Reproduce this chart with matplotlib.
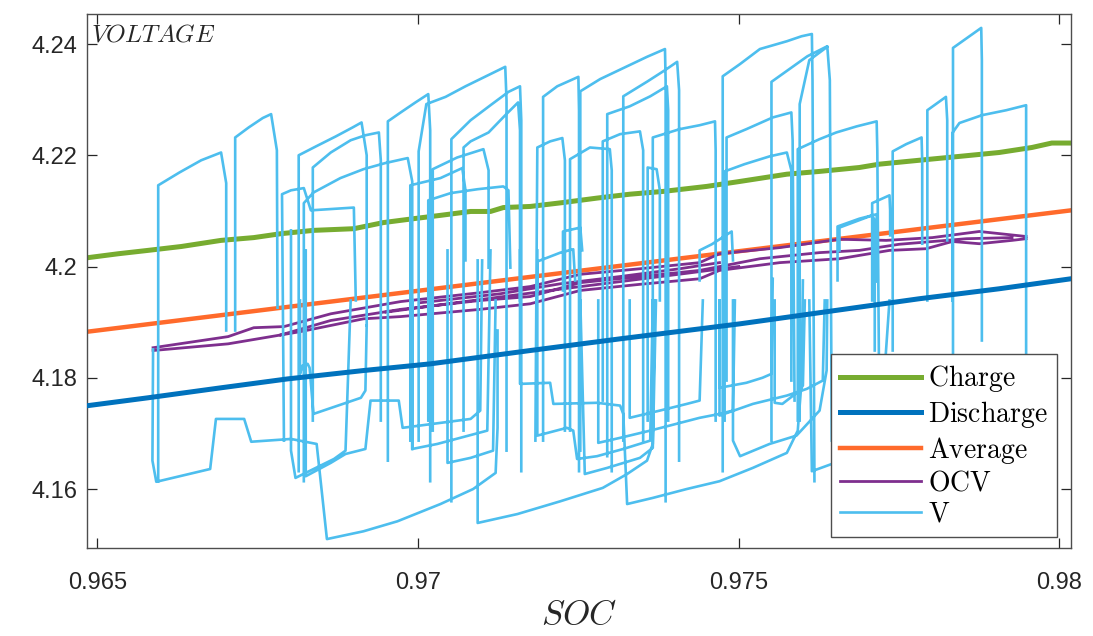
import numpy as np
import matplotlib
matplotlib.use('Agg')
import matplotlib.pyplot as plt

nan = np.nan

# ---------------- data ----------------
charge_soc = [0.96486, 0.96533, 0.96579, 0.96631, 0.96693, 0.96744, 0.96786, 0.96837, 0.96900,
              0.96946, 0.96993, 0.97035, 0.97082, 0.97113, 0.97133, 0.97175, 0.97226, 0.97279,
              0.97330, 0.97382, 0.97450, 0.97502, 0.97575, 0.97626, 0.97688, 0.97719, 0.97781,
              0.97844, 0.97906, 0.97957, 0.97988, 0.98018]
charge_v = [4.2016, 4.2023, 4.2029, 4.2036, 4.2047, 4.2052, 4.2059, 4.2065, 4.2068,
            4.2079, 4.2086, 4.2092, 4.2099, 4.2099, 4.2106, 4.2108, 4.2115, 4.2123,
            4.2130, 4.2135, 4.2144, 4.2153, 4.2166, 4.2171, 4.2178, 4.2184, 4.2191,
            4.2198, 4.2205, 4.2214, 4.2222, 4.2222]

discharge_soc = [0.96486, 0.96579, 0.96693, 0.96797, 0.96915, 0.97019, 0.97175, 0.97315,
                 0.97502, 0.97626, 0.97781, 0.97906, 0.98018]
discharge_v = [4.1750, 4.1764, 4.1782, 4.1798, 4.1813, 4.1825, 4.1849, 4.1870,
               4.1897, 4.1917, 4.1942, 4.1960, 4.1978]

average_soc = [0.96486, 0.97250, 0.98018]
average_v = [4.1883, 4.1992, 4.2101]

# OCV: several overlapping strands, separated by nan
ocv_soc = [0.96587, 0.96704, 0.96744, 0.96791, 0.96864, 0.96973, 0.97097, 0.97175, 0.97253, 0.97346,
           0.97439, 0.97470, 0.97564, 0.97657, 0.97730, 0.97802, 0.97875, 0.97948, nan,
           0.96587, 0.96704, 0.96817, 0.96915, 0.96973, 0.97097, 0.97175, 0.97253, 0.97346, 0.97439,
           0.97470, 0.97564, 0.97657, 0.97735, 0.97792, 0.97833, 0.97875, 0.97926, 0.97948, nan,
           0.96786, 0.96864, 0.96973, 0.97097, 0.97175, 0.97253, 0.97346, 0.97439, 0.97533, 0.97626,
           0.97688, 0.97750, 0.97855, 0.97926, nan,
           0.97004, 0.97128, 0.97222, 0.97315, 0.97408, 0.97470, nan,
           0.96950, 0.97060, 0.97160, 0.97240, 0.97330, 0.97420, 0.97500]
ocv_v = [4.1854, 4.1874, 4.1890, 4.1892, 4.1915, 4.1937, 4.1953, 4.1964, 4.1986, 4.1996,
         4.2007, 4.2023, 4.2034, 4.2049, 4.2047, 4.2052, 4.2063, 4.2054, nan,
         4.1849, 4.1861, 4.1883, 4.1906, 4.1910, 4.1923, 4.1933, 4.1957, 4.1968, 4.1978,
         4.1993, 4.2007, 4.2014, 4.2029, 4.2032, 4.2045, 4.2041, 4.2047, 4.2050, nan,
         4.1877, 4.1903, 4.1923, 4.1939, 4.1946, 4.1971, 4.1982, 4.1993, 4.2014, 4.2025,
         4.2029, 4.2040, 4.2050, 4.2052, nan,
         4.1935, 4.1951, 4.1969, 4.1982, 4.1996, 4.2007, nan,
         4.1918, 4.1935, 4.1950, 4.1962, 4.1975, 4.1988, 4.2000]

# V: charge pulses (upper part of the trace), pieces separated by nan
v_top_soc = [
    0.96595, 0.96595, 0.96628, 0.96662, 0.96693, 0.96701, 0.96701, nan,
    0.96715, 0.96715, 0.96736, 0.96758, 0.96771, 0.96780, 0.96781, nan,
    0.96791, 0.96788, 0.96802, 0.96822, 0.96833, 0.96900, 0.96903, nan,
    0.96814, 0.96814, 0.96841, 0.96872, 0.96898, 0.96912, 0.96920, 0.96920, nan,
    0.96836, 0.96836, 0.96864, 0.96895, 0.96918, 0.96939, 0.96942, 0.96942, nan,
    0.96822, 0.96822, 0.96837, 0.96879, 0.96915, 0.96949, 0.96984, 0.96991, 0.96991, nan,
    0.96953, 0.96953, 0.96973, 0.96996, 0.97016, 0.97019, 0.97019, nan,
    0.97001, 0.97001, 0.97013, 0.97043, 0.97074, 0.97113, 0.97136, 0.97138, 0.97138, nan,
    0.97052, 0.97052, 0.97082, 0.97113, 0.97141, 0.97159, 0.97161, 0.97161, nan,
    0.97071, 0.97071, 0.97082, 0.97110, 0.97136, 0.97156, 0.97159, 0.97159, nan,
    0.97023, 0.97023, 0.97061, 0.97102, 0.97110, 0.97110, nan,
    0.96988, 0.96988, 0.97035, 0.97069, 0.97074, 0.97074, nan,
    0.97016, 0.97016, 0.97051, 0.97093, 0.97133, 0.97141, 0.97144, nan,
    0.97195, 0.97195, 0.97217, 0.97250, 0.97251, 0.97251, nan,
    0.97183, 0.97186, 0.97206, 0.97225, 0.97229, 0.97229, nan,
    0.97253, 0.97253, 0.97284, 0.97326, 0.97357, 0.97385, 0.97386, 0.97386, nan,
    0.97320, 0.97320, 0.97358, 0.97385, 0.97404, 0.97407, 0.97407, nan,
    0.97295, 0.97295, 0.97330, 0.97362, 0.97388, 0.97390, 0.97390, nan,
    0.97237, 0.97237, 0.97268, 0.97299, 0.97302, 0.97302, nan,
    0.97288, 0.97288, 0.97315, 0.97346, 0.97351, 0.97351, nan,
    0.97366, 0.97366, 0.97408, 0.97439, 0.97463, 0.97464, 0.97464, nan,
    0.97358, 0.97358, 0.97372, 0.97377, 0.97377, nan,
    0.97475, 0.97475, 0.97502, 0.97533, 0.97575, 0.97598, 0.97614, 0.97615, 0.97618, nan,
    0.97551, 0.97551, 0.97584, 0.97607, 0.97638, 0.97642, 0.97645, nan,
    0.97595, 0.97595, 0.97610, 0.97638, nan,
    0.97481, 0.97481, 0.97512, 0.97553, 0.97582, 0.97584, 0.97587, nan,
    0.97478, 0.97478, 0.97509, 0.97548, 0.97575, 0.97582, 0.97582, nan,
    0.97592, 0.97592, 0.97626, 0.97652, 0.97684, 0.97715, 0.97716, 0.97719, nan,
    0.97740, 0.97740, 0.97761, 0.97785, 0.97786, 0.97786, nan,
    0.97794, 0.97794, 0.97823, 0.97825, 0.97825, nan,
    0.97834, 0.97834, 0.97856, 0.97878, 0.97879, 0.97879, nan,
    0.97833, 0.97833, 0.97844, 0.97879, 0.97917, 0.97948, 0.97948, 0.97948, nan,
    0.97708, 0.97708, 0.97735, 0.97736, 0.97736, nan,
    0.97657, 0.97657, 0.97708, 0.97712, 0.97712, nan,
    0.97186, 0.97186, 0.97222, 0.97242, 0.97245, nan,
    0.97226, 0.97226, 0.97253, 0.97256, nan,
    0.97439, 0.97439, 0.97458, 0.97489, 0.97491, nan,
    0.97654, 0.97654, 0.97688, 0.97715, 0.97716,
]
v_top_v = [
    4.1614, 4.2146, 4.2169, 4.2191, 4.2205, 4.2150, 4.1885, nan,
    4.1885, 4.2232, 4.2250, 4.2267, 4.2274, 4.2209, 4.1926, nan,
    4.1687, 4.2130, 4.2137, 4.2141, 4.2101, 4.2106, 4.1939, nan,
    4.1632, 4.2200, 4.2216, 4.2234, 4.2250, 4.2259, 4.2200, 4.1894, nan,
    4.1723, 4.2178, 4.2205, 4.2227, 4.2236, 4.2241, 4.2191, 4.1723, nan,
    4.1614, 4.2114, 4.2133, 4.2159, 4.2175, 4.2186, 4.2195, 4.2153, 4.1672, nan,
    4.1651, 4.2261, 4.2277, 4.2295, 4.2310, 4.2245, 4.1614, nan,
    4.1687, 4.2207, 4.2292, 4.2305, 4.2324, 4.2346, 4.2359, 4.2299, 4.1669, nan,
    4.1578, 4.2229, 4.2263, 4.2290, 4.2314, 4.2324, 4.2263, 4.1632, nan,
    4.1705, 4.2214, 4.2225, 4.2241, 4.2272, 4.2295, 4.2245, 4.1939, nan,
    4.1705, 4.2175, 4.2196, 4.2211, 4.2173, 4.1998, nan,
    4.1687, 4.2146, 4.2159, 4.2177, 4.2137, 4.2011, nan,
    4.1723, 4.2119, 4.2132, 4.2139, 4.2144, 4.2137, 4.1998, nan,
    4.1687, 4.2305, 4.2324, 4.2341, 4.2281, 4.1632, nan,
    4.1687, 4.2214, 4.2225, 4.2231, 4.2191, 4.1705, nan,
    4.1669, 4.2315, 4.2337, 4.2360, 4.2377, 4.2391, 4.2335, 4.1578, nan,
    4.1687, 4.2306, 4.2333, 4.2353, 4.2368, 4.2317, 4.1651, nan,
    4.1659, 4.2274, 4.2288, 4.2306, 4.2324, 4.2281, 4.1723, nan,
    4.1705, 4.2193, 4.2214, 4.2211, 4.2173, 4.1632, nan,
    4.1759, 4.2225, 4.2238, 4.2243, 4.2209, 4.1687, nan,
    4.1705, 4.2232, 4.2247, 4.2254, 4.2261, 4.2209, 4.1723, nan,
    4.1723, 4.2178, 4.2175, 4.2137, 4.1939, nan,
    4.1632, 4.2342, 4.2364, 4.2391, 4.2405, 4.2414, 4.2418, 4.2335, 4.1614, nan,
    4.1687, 4.2332, 4.2359, 4.2378, 4.2396, 4.2335, 4.1687, nan,
    4.1723, 4.2292, 4.2371, 4.2395, nan,
    4.1795, 4.2232, 4.2247, 4.2268, 4.2277, 4.2227, 4.1759, nan,
    4.1723, 4.2171, 4.2184, 4.2198, 4.2205, 4.2173, 4.1795, nan,
    4.1723, 4.2211, 4.2229, 4.2241, 4.2252, 4.2261, 4.2209, 4.1759, nan,
    4.1849, 4.2207, 4.2220, 4.2232, 4.2191, 4.2041, nan,
    4.1939, 4.2281, 4.2305, 4.2263, 4.2047, nan,
    4.1759, 4.2393, 4.2411, 4.2429, 4.2371, 4.1867, nan,
    4.1939, 4.2240, 4.2258, 4.2272, 4.2281, 4.2290, 4.2227, 4.1632, nan,
    4.1939, 4.2114, 4.2128, 4.2101, 4.2056, nan,
    4.2029, 4.2070, 4.2092, 4.2083, 4.1849, nan,
    4.1957, 4.2009, 4.2025, 4.2031, 4.1975, nan,
    4.1957, 4.2063, 4.2070, 4.2029, nan,
    4.1975, 4.2029, 4.2040, 4.2063, 4.2011, nan,
    4.1975, 4.2072, 4.2086, 4.2094, 4.1973,
]

# V: discharge pulses (lower part of the trace)
v_bot_soc = [
    0.96587, 0.96586, 0.96592, 0.96676, 0.96685, 0.96729, 0.96740, 0.96802, 0.96842, 0.96858,
    0.96915, 0.96968, 0.97035, 0.97086, 0.97121, 0.97124, 0.97124, nan,
    0.96802, 0.96802, 0.96809, 0.96869, 0.96887, 0.96895, nan,
    0.96816, 0.96816, 0.96820, 0.96828, 0.96831, 0.96837, 0.96911, 0.96918, 0.96920, nan,
    0.96825, 0.96825, 0.96864, 0.96887, 0.96918, 0.96926, 0.96970, 0.96976, 0.97035, 0.97082,
    0.97097, 0.97100, nan,
    0.96991, 0.96991, 0.97030, 0.97108, 0.97113, nan,
    0.97046, 0.97046, 0.97082, 0.97117, 0.97121, nan,
    0.97093, 0.97093, 0.97155, 0.97222, 0.97288, 0.97326, 0.97357, 0.97366, 0.97369, nan,
    0.97159, 0.97159, 0.97206, 0.97211, 0.97279, 0.97315, 0.97320, 0.97326, 0.97366, 0.97419,
    0.97470, 0.97522, 0.97575, 0.97592, 0.97598, 0.97600, nan,
    0.97186, 0.97186, 0.97232, 0.97242, 0.97248, 0.97279, 0.97320, 0.97362, 0.97366, nan,
    0.97253, 0.97260, 0.97295, 0.97346, 0.97366, 0.97371, nan,
    0.97281, 0.97281, 0.97315, 0.97362, 0.97439, 0.97470, 0.97491, 0.97494, nan,
    0.97330, 0.97330, 0.97377, 0.97419, 0.97439, 0.97444, nan,
    0.97491, 0.97491, 0.97502, 0.97548, 0.97590, 0.97626, 0.97637, 0.97638, nan,
    0.97470, 0.97470, 0.97522, 0.97575, 0.97606, 0.97631, 0.97634, nan,
    0.97470, 0.97470, 0.97512, 0.97537, 0.97551, 0.97553, nan,
    0.97556, 0.97556, 0.97568, 0.97595, 0.97600, 0.97603, nan,
    0.97610, 0.97614, 0.97645, 0.97688, 0.97719, 0.97735,
]
v_bot_v = [
    4.1851, 4.1651, 4.1613, 4.1636, 4.1726, 4.1726, 4.1685, 4.1690, 4.1681, 4.1510,
    4.1524, 4.1542, 4.1573, 4.1600, 4.1629, 4.1710, 4.1885, nan,
    4.2065, 4.1669, 4.1620, 4.1654, 4.1669, 4.1939, nan,
    4.1939, 4.1807, 4.1822, 4.1825, 4.1818, 4.1735, 4.1764, 4.1777, 4.1894, nan,
    4.2029, 4.1623, 4.1647, 4.1663, 4.1672, 4.1759, 4.1759, 4.1710, 4.1719, 4.1726,
    4.1741, 4.2011, nan,
    4.1939, 4.1672, 4.1681, 4.1705, 4.2029, nan,
    4.2029, 4.1647, 4.1656, 4.1669, 4.1939, nan,
    4.2011, 4.1539, 4.1555, 4.1578, 4.1602, 4.1627, 4.1651, 4.1681, 4.1939, nan,
    4.2029, 4.1789, 4.1791, 4.1753, 4.1755, 4.1750, 4.1735, 4.1573, 4.1584, 4.1600,
    4.1614, 4.1638, 4.1665, 4.1705, 4.1795, 4.1975, nan,
    4.2029, 4.1696, 4.1710, 4.1705, 4.1654, 4.1659, 4.1672, 4.1687, 4.1939, nan,
    4.1939, 4.1627, 4.1638, 4.1656, 4.1674, 4.1939, nan,
    4.1939, 4.1683, 4.1692, 4.1705, 4.1728, 4.1735, 4.1741, 4.1939, nan,
    4.1939, 4.1728, 4.1741, 4.1753, 4.1759, 4.1939, nan,
    4.1939, 4.1687, 4.1659, 4.1681, 4.1696, 4.1741, 4.1813, 4.1939, nan,
    4.1939, 4.1732, 4.1753, 4.1768, 4.1780, 4.1795, 4.1939, nan,
    4.1939, 4.1782, 4.1791, 4.1800, 4.1807, 4.1978, nan,
    4.1939, 4.1755, 4.1753, 4.1777, 4.1786, 4.1939, nan,
    4.1939, 4.1632, 4.1645, 4.1660, 4.1672, 4.1939,
]

xticks = [0.965, 0.97, 0.975, 0.98]
xtick_labels = ['0.965', '0.97', '0.975', '0.98']
yticks = [4.16, 4.18, 4.20, 4.22, 4.24]
ytick_labels = ['4.16', '4.18', '4.2', '4.22', '4.24']

# ---------------- plot ----------------
plt.rcParams['font.family'] = ['Liberation Sans', 'DejaVu Sans']
plt.rcParams['mathtext.fontset'] = 'cm'

fig = plt.figure(figsize=(10.93, 6.36), dpi=100)
ax = fig.add_axes([0.0796, 0.1384, 0.9003, 0.8396])

c_charge = '#77AC30'
c_dis = '#0072BD'
c_avg = '#FF6A2B'
c_ocv = '#7E2F8E'
c_v = '#4DBEEE'

ax.plot(charge_soc, charge_v, color=c_charge, lw=3.6, zorder=2, label=r'$\mathrm{Charge}$')
ax.plot(discharge_soc, discharge_v, color=c_dis, lw=3.6, zorder=5, label=r'$\mathrm{Discharge}$')
ax.plot(average_soc, average_v, color=c_avg, lw=3.2, zorder=2, label=r'$\mathrm{Average}$')
ax.plot(ocv_soc, ocv_v, color=c_ocv, lw=2.0, zorder=3, label=r'$\mathrm{OCV}$')
v_soc = list(v_top_soc) + [nan] + list(v_bot_soc)
v_v = list(v_top_v) + [nan] + list(v_bot_v)
ax.plot(v_soc, v_v, color=c_v, lw=1.9, zorder=4, label=r'$\mathrm{V}$')

ax.set_xlim(0.96484, 0.98018)
ax.set_ylim(4.1494, 4.2454)
ax.set_xticks(xticks)
ax.set_xticklabels(xtick_labels)
ax.set_yticks(yticks)
ax.set_yticklabels(ytick_labels)

ax.tick_params(direction='in', length=7, width=0.9, top=True, right=True,
               labelsize=17, colors='#262626')
ax.tick_params(axis='x', pad=17)
ax.tick_params(axis='y', pad=7)
for s in ax.spines.values():
    s.set_color('#4d4d4d')
    s.set_linewidth(1.0)

ax.set_xlabel(r'$SOC$', fontsize=25, labelpad=3, color='#262626')
ax.text(0.004, 0.985, r'$VOLTAGE$', transform=ax.transAxes, fontsize=18,
        ha='left', va='top', color='#262626')

leg = ax.legend(loc='lower right', bbox_to_anchor=(0.986, 0.0206), fontsize=20,
                handlelength=2.9, handletextpad=0.25, labelspacing=0.17,
                borderpad=0.35, borderaxespad=0.0, fancybox=False, framealpha=1.0,
                edgecolor='#4d4d4d')
leg.get_frame().set_linewidth(1.0)
leg.set_zorder(10)

fig.savefig('out.png', dpi=100)
